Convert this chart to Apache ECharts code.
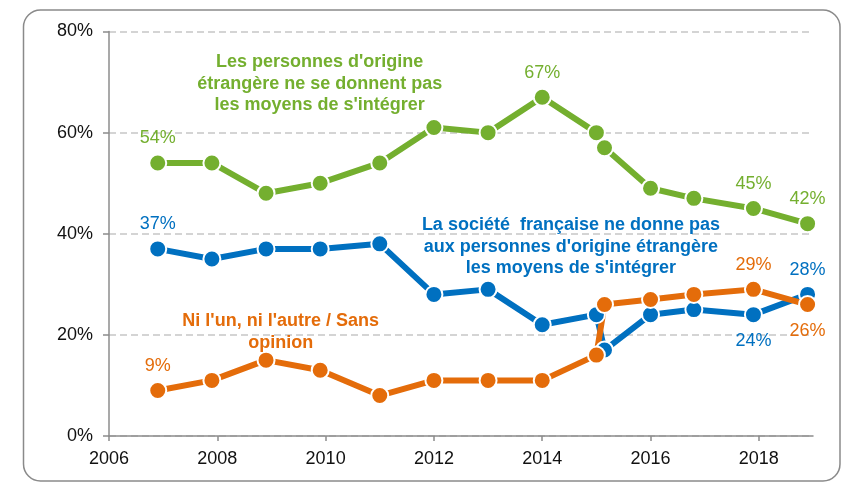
<!DOCTYPE html>
<html>
<head>
<meta charset="utf-8">
<script src="https://cdn.jsdelivr.net/npm/echarts@6/dist/echarts.min.js"></script>
<style>
  html, body { margin: 0; padding: 0; background: #fff; }
  #chart { width: 846px; height: 483px; }
</style>
</head>
<body>
<div id="chart"></div>
<script>
// survey years (fractional = month of the wave)
const years = [2006.9, 2007.9, 2008.9, 2009.9, 2011.0, 2012.0, 2013.0, 2014.0, 2015.0, 2015.15, 2016.0, 2016.8, 2017.9, 2018.9];

const greenVals  = [54, 54, 48, 50, 54, 61, 60, 67, 60, 57, 49, 47, 45, 42];
const blueVals   = [37, 35, 37, 37, 38, 28, 29, 22, 24, 17, 24, 25, 24, 28];
const orangeVals = [9, 11, 15, 13, 8, 11, 11, 11, 16, 26, 27, 28, 29, 26];

// which points carry a value label, and where
const greenLabels  = { 0: 'top', 7: 'top', 12: 'top', 13: 'top' };
const blueLabels   = { 0: 'top', 12: 'bottom', 13: 'top' };
const orangeLabels = { 0: 'top', 12: 'top', 13: 'bottom' };

const xTicks = [2006, 2008, 2010, 2012, 2014, 2016, 2018];

// annotation texts, anchored at [year, value] (centre of the block)
const greenNote  = { text: "Les personnes d'origine\nétrangère ne se donnent pas\nles moyens de s'intégrer", at: [2009.89, 69.7] };
const blueNote   = { text: "La société  française ne donne pas\naux personnes d'origine étrangère\nles moyens de s'intégrer", at: [2014.53, 37.4] };
const orangeNote = { text: "Ni l'un, ni l'autre / Sans\nopinion", at: [2009.17, 20.6] };

const GREEN = '#74AF2F';
const BLUE = '#0070C0';
const ORANGE = '#E46C0A';
const FONT = '"Liberation Sans", Arial, sans-serif';

function buildData(vals, labels, color) {
  return vals.map((v, i) => {
    const item = { value: [years[i], v] };
    if (labels[i]) {
      item.label = {
        show: true,
        position: labels[i],
        distance: labels[i] === 'top' ? 6 : 8,
        formatter: '{@[1]}%',
        color: color,
        fontSize: 18,
        fontFamily: FONT
      };
    }
    return item;
  });
}

function makeSeries(name, vals, labels, color) {
  return {
    name: name,
    type: 'line',
    data: buildData(vals, labels, color),
    symbol: 'circle',
    symbolSize: 17,
    lineStyle: { color: color, width: 6 },
    itemStyle: { color: color, borderColor: '#fff', borderWidth: 2 },
    label: { show: false },
    emphasis: { disabled: true },
    animation: false
  };
}

const chart = echarts.init(document.getElementById('chart'), null, { renderer: 'canvas' });

const option = {
  backgroundColor: '#fff',
  animation: false,
  grid: { left: 109, right: 33, top: 31.5, bottom: 47 },
  xAxis: {
    type: 'value',
    min: 2006,
    max: 2019,
    interval: 2,
    axisLine: { lineStyle: { color: '#8c8c8c', width: 1.5 } },
    axisTick: { show: true, length: 5, customValues: xTicks, lineStyle: { color: '#8c8c8c', width: 1.5 } },
    axisLabel: {
      customValues: xTicks,
      margin: 14,
      color: '#111',
      fontSize: 18,
      fontFamily: FONT,
      formatter: v => String(v)
    },
    splitLine: { show: false }
  },
  yAxis: {
    type: 'value',
    min: 0,
    max: 80,
    interval: 20,
    axisLine: { show: true, lineStyle: { color: '#8c8c8c', width: 1.5 } },
    axisTick: { show: true, length: 6, lineStyle: { color: '#8c8c8c', width: 1.5 } },
    axisLabel: {
      margin: 16,
      color: '#111',
      fontSize: 18,
      fontFamily: FONT,
      formatter: '{value}%'
    },
    splitLine: { show: true, lineStyle: { color: '#c6c6c6', width: 1.5, type: [7, 4] } }
  },
  series: [
    makeSeries('green', greenVals, greenLabels, GREEN),
    makeSeries('blue', blueVals, blueLabels, BLUE),
    makeSeries('orange', orangeVals, orangeLabels, ORANGE)
  ]
};

chart.setOption(option);

// frame + annotation blocks positioned from data coordinates
function noteGraphic(note, color) {
  const p = chart.convertToPixel({ gridIndex: 0 }, note.at);
  return {
    type: 'text',
    x: p[0],
    y: p[1],
    z: 10,
    style: {
      text: note.text,
      fill: color,
      font: 'bold 18px ' + FONT,
      align: 'center',
      verticalAlign: 'middle',
      lineHeight: 21.5
    }
  };
}

chart.setOption({
  graphic: [
    {
      type: 'rect',
      shape: { x: 23.5, y: 10, width: 816.5, height: 471, r: 17 },
      style: { fill: null, stroke: '#8a8a8a', lineWidth: 1.5 },
      z: -1
    },
    noteGraphic(greenNote, GREEN),
    noteGraphic(blueNote, BLUE),
    noteGraphic(orangeNote, ORANGE)
  ]
});
</script>
</body>
</html>
